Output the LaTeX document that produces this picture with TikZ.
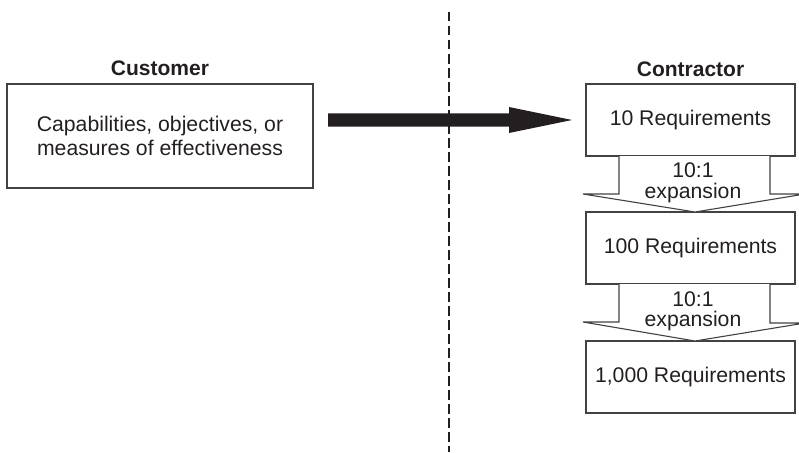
\documentclass[tikz,border=0pt]{standalone}
\usepackage{fontspec}
\setmainfont{Liberation Sans}
\usetikzlibrary{calc}
\definecolor{ink}{HTML}{231F20}
\begin{document}
\begin{tikzpicture}[x=1pt,y=-1pt,
  every node/.style={text=ink, font=\fontsize{21.2}{23.2}\selectfont},
  box/.style={draw=ink!85, line width=1.1pt, minimum width=209pt, minimum height=72pt,
              inner sep=0pt, outer sep=0pt, align=center},
  head/.style={font=\fontsize{21}{23}\selectfont\bfseries, anchor=base},
  hollow/.style={draw=ink!85, line width=1.1pt, fill=white, line join=miter},
  divider/.style={draw=ink, line width=2.2pt, dash pattern=on 9.5pt off 4.5pt},
  tag/.style={align=center, inner sep=0pt, font=\fontsize{21.2}{20.5}\selectfont}]
\useasboundingbox (0,0) rectangle (799,452);

% customer side
\node[head] (custlbl) at (160,75) {Customer};
\node[box, minimum width=306pt, minimum height=104pt] (cust) at (160,136)
  {Capabilities, objectives, or\\measures of effectiveness};

% contractor side
\node[head] (conlbl) at (690.5,76) {Contractor};
\node[box] (b1) at (690.5,120) {10 Requirements};
\node[box] (b2) at (690.5,248) {100 Requirements};
\node[box] (b3) at (690.5,377) {1,000 Requirements};

% boundary between the two parties
\coordinate (dtop) at (449,12);
\coordinate (dbot) at (449,452);
\draw[divider] (dtop) -- (dbot);

% hand-over arrow
\coordinate (as) at ($(cust.east |- b1.west)+(15,0)$);
\coordinate (at) at ($(b1.west)+(-14,0)$);
\fill[ink] ($(as)+(0,-6.7)$) -- ($(at)+(-63,-6.7)$) -- ($(at)+(-63,-13)$) -- (at)
  -- ($(at)+(-63,13)$) -- ($(at)+(-63,6.7)$) -- ($(as)+(0,6.7)$) -- cycle;

% expansion arrows between requirement levels
\foreach \u/\l/\n in {b1/b2/e1, b2/b3/e2} {
  \draw[hollow] ($(\u.south)+(-71.5,0)$) -- ++(0,38) -- ++(-36,0)
    -- ($(\l.north)+(4.5,0)$) -- ++(110,-18) -- ++(-35,0)
    -- ($(\u.south)+(79.5,0)$);
  \node[tag] (\n) at ($(\u.south)!0.5!(\l.north)+(2.5,-1)$) {10:1\\expansion};
}
\end{tikzpicture}
\end{document}
